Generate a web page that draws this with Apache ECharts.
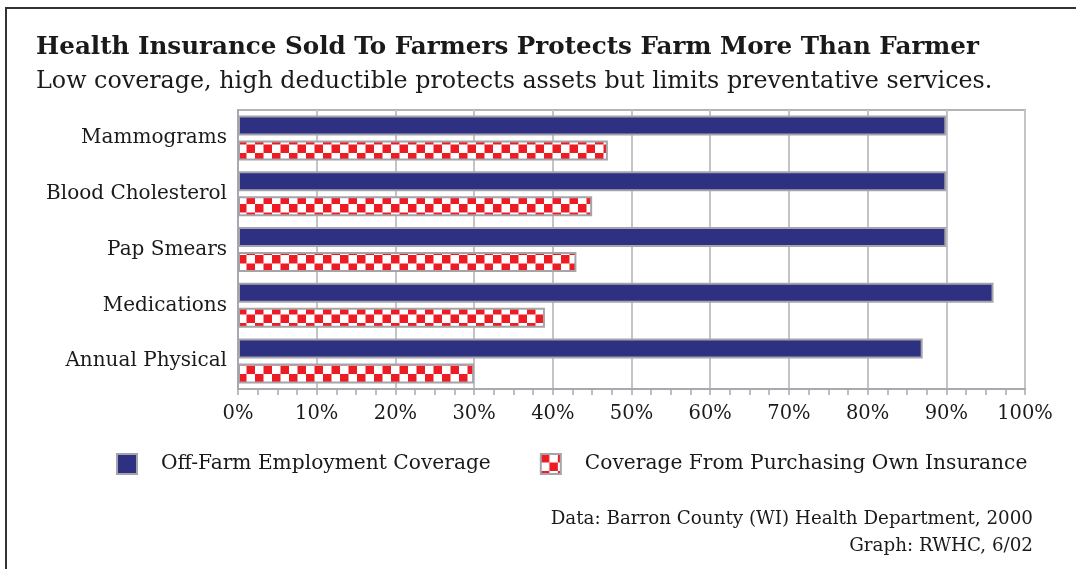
<!DOCTYPE html>
<html>
<head>
<meta charset="utf-8">
<script src="https://cdn.jsdelivr.net/npm/echarts@6/dist/echarts.min.js"></script>
<style>html,body{margin:0;padding:0;background:#fff;}#c{width:1076px;height:569px;}</style>
</head>
<body>
<div id="c"></div>
<script>
const categories = ['Mammograms', 'Blood Cholesterol', 'Pap Smears', 'Medications', 'Annual Physical'];
const offFarm = [90, 90, 90, 96, 87];
const ownInsurance = [47, 45, 43, 39, 30];
const seriesNames = ['Off-Farm Employment Coverage', 'Coverage From Purchasing Own Insurance'];
const titleText = 'Health Insurance Sold To Farmers Protects Farm More Than Farmer';
const subtitleText = 'Low coverage, high deductible protects assets but limits preventative services.';
const sourceLines = ['Data: Barron County (WI) Health Department, 2000', 'Graph: RWHC, 6/02'];

const FONT = '"DejaVu Serif", serif';
const pc = document.createElement('canvas');
pc.width = 17; pc.height = 17;
const g = pc.getContext('2d');
g.fillStyle = '#ffffff'; g.fillRect(0, 0, 17, 17);
g.fillStyle = '#ed1c24';
g.fillRect(0, 0, 8.5, 8.5);
g.fillRect(8.5, 8.5, 8.5, 8.5);

const chart = echarts.init(document.getElementById('c'), null, {renderer: 'canvas'});
chart.setOption({
  backgroundColor: '#ffffff',
  animation: false,
  title: {
    text: titleText,
    subtext: subtitleText,
    left: 31, top: 30,
    padding: 5,
    itemGap: 10,
    textStyle: {fontFamily: FONT, fontWeight: 'bold', fontSize: 24.6, color: '#1a1a1a'},
    subtextStyle: {fontFamily: FONT, fontSize: 23.8, color: '#1a1a1a'}
  },
  graphic: [
    {type: 'rect', shape: {x: 6, y: 8, width: 1200, height: 700}, style: {fill: 'none', stroke: '#333', lineWidth: 2}, silent: true},
    {type: 'text', right: 43, top: 510, style: {text: sourceLines[0], fontFamily: FONT, fontSize: 18.3, fill: '#1a1a1a', textAlign: 'right'}},
    {type: 'text', right: 43, top: 537, style: {text: sourceLines[1], fontFamily: FONT, fontSize: 18.3, fill: '#1a1a1a', textAlign: 'right'}}
  ],
  legend: {
    left: 116, top: 453,
    padding: 0,
    itemWidth: 20, itemHeight: 20,
    itemGap: 49,
    icon: 'rect',
    textStyle: {fontFamily: FONT, fontSize: 20.2, color: '#1a1a1a', padding: [0, 0, 0, 19]},
    data: seriesNames
  },
  grid: {
    left: 238, right: 51, top: 110, bottom: 180,
    show: true, borderColor: '#b4b4b8', borderWidth: 2, backgroundColor: 'transparent'
  },
  xAxis: {
    type: 'value', min: 0, max: 100, interval: 10,
    axisLine: {show: true, lineStyle: {color: '#a8a8ae', width: 2}},
    axisTick: {show: true, length: 6, lineStyle: {color: '#a8a8ae', width: 1.5}},
    minorTick: {show: true, splitNumber: 4, length: 6, lineStyle: {color: '#a8a8ae', width: 1.5}},
    splitLine: {show: true, lineStyle: {color: '#c4c4c8', width: 2}},
    axisLabel: {formatter: '{value}%', fontFamily: FONT, fontSize: 19.5, color: '#1a1a1a', margin: 15}
  },
  yAxis: {
    type: 'category', data: categories, inverse: true,
    axisLine: {show: true, lineStyle: {color: '#a8a8ae', width: 2}},
    axisTick: {show: false},
    axisLabel: {fontFamily: FONT, fontSize: 20, color: '#1a1a1a', margin: 11}
  },
  series: [
    {
      name: seriesNames[0], type: 'bar', data: offFarm,
      barWidth: 20, barGap: '25%',
      itemStyle: {color: '#2e3182', borderColor: '#a4a4aa', borderWidth: 2}
    },
    {
      name: seriesNames[1], type: 'bar', data: ownInsurance,
      barWidth: 20,
      itemStyle: {color: {image: pc, repeat: 'repeat'}, borderColor: '#a4a4aa', borderWidth: 2}
    }
  ]
});
</script>
</body>
</html>
